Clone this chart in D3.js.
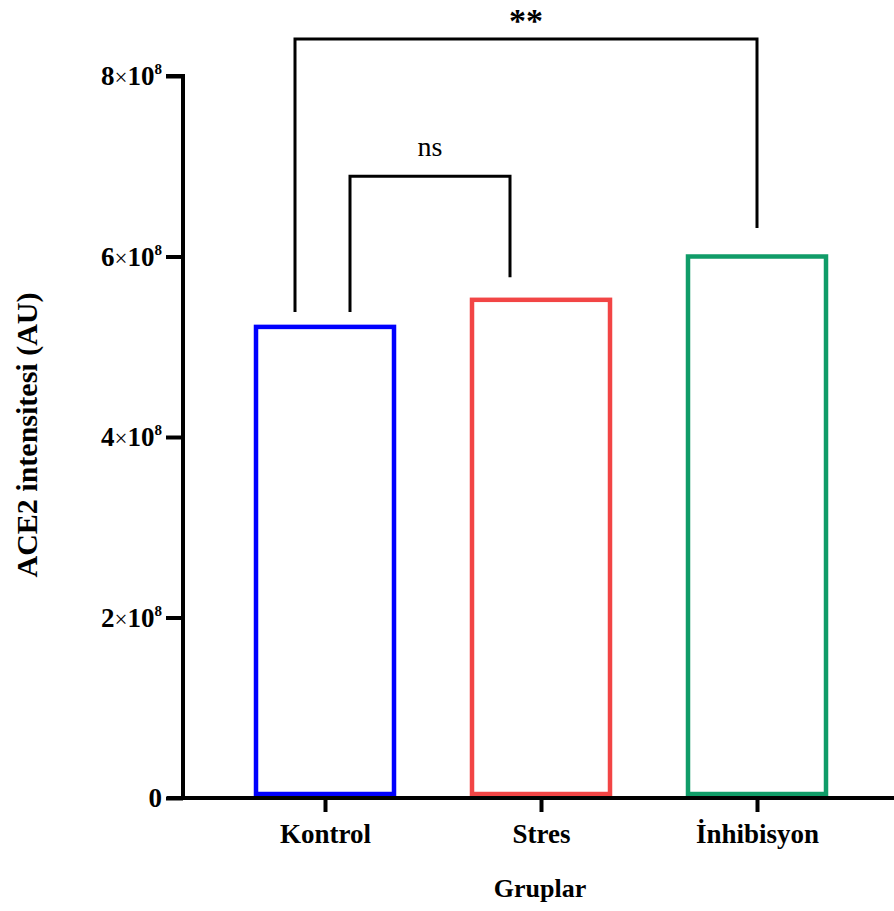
<!DOCTYPE html>
<html lang="tr">
  <head>
    <meta charset="utf-8" />
    <title>ACE2 intensitesi</title>
    <script src="https://cdn.jsdelivr.net/npm/d3@7"></script>
    <style>
      body { margin: 0; background: white; }
      text { font-family: "Liberation Serif", "DejaVu Serif", serif; font-weight: bold; }
    </style>
  </head>
  <body>
    <script>
      // data
      const groups = ["Kontrol", "Stres", "İnhibisyon"];
      const values = [5.22e8, 5.52e8, 6.0e8];
      const colors = ["#0000ff", "#f24545", "#109c68"];
      const yTicks = [0, 2e8, 4e8, 6e8, 8e8];

      // significance brackets: height and where each leg stops
      const brackets = [
        { from: 0, to: 1, top: 6.89e8, leftEnd: 5.385e8, rightEnd: 5.77e8, dxL: 25, dxR: -31, label: "ns" },
        { from: 0, to: 2, top: 8.41e8, leftEnd: 5.385e8, rightEnd: 6.315e8, dxL: -30, dxR: 0, label: "**" }
      ];

      const width = 894, height = 911;

      const svg = d3.select("body").append("svg")
        .attr("width", width)
        .attr("height", height);

      const x = d3.scalePoint().domain(groups).range([325, 757]);
      const y = d3.scaleLinear().domain([0, 8e8]).range([798, 76]);
      const barW = 138;

      // bars
      svg.selectAll("rect.bar")
        .data(groups)
        .enter()
        .append("rect")
        .attr("class", "bar")
        .attr("x", d => x(d) - barW / 2)
        .attr("y", (d, i) => y(values[i]))
        .attr("width", barW)
        .attr("height", (d, i) => y(0) - 4 - y(values[i]))
        .attr("fill", "none")
        .attr("stroke", (d, i) => colors[i])
        .attr("stroke-width", 4.5);

      // y axis
      const yAxis = svg.append("g")
        .attr("transform", "translate(183,0)")
        .call(d3.axisLeft(y).tickValues(yTicks).tickSize(17).tickFormat(""));
      yAxis.select(".domain").attr("d", `M-17,${y(8e8)}H0V${y(0)}`);
      yAxis.selectAll("path, line").attr("stroke", "black").attr("stroke-width", 4);

      const yLabels = svg.append("g").selectAll("text")
        .data(yTicks)
        .enter()
        .append("text")
        .attr("x", 162)
        .attr("y", d => y(d) + 9)
        .attr("text-anchor", "end")
        .attr("font-size", 27);
      yLabels.each(function (d) {
        const t = d3.select(this);
        if (d === 0) { t.text("0"); return; }
        t.append("tspan").text(d / 1e8);
        t.append("tspan").style("font-weight", "normal").attr("font-size", 23).text("×");
        t.append("tspan").text("10");
        t.append("tspan").attr("font-size", 15).attr("dy", -11).text("8");
      });

      // x axis
      const xAxis = svg.append("g")
        .attr("transform", `translate(0,${y(0)})`)
        .call(d3.axisBottom(x).tickSize(14));
      xAxis.select(".domain").attr("d", "M167,0H894");
      xAxis.selectAll("path, line").attr("stroke", "black").attr("stroke-width", 4);
      xAxis.selectAll("text")
        .attr("y", 45)
        .attr("dy", 0)
        .attr("font-size", 27)
        .attr("fill", "black")
        .attr("font-family", "Liberation Serif, serif")
        .attr("font-weight", "bold");

      // brackets
      const bg = svg.append("g");
      brackets.forEach(b => {
        const xl = x(groups[b.from]) + b.dxL;
        const xr = x(groups[b.to]) + b.dxR;
        bg.append("path")
          .attr("d", `M${xl},${y(b.leftEnd)}V${y(b.top)}H${xr}V${y(b.rightEnd)}`)
          .attr("fill", "none")
          .attr("stroke", "black")
          .attr("stroke-width", 3);
        const ns = b.label === "ns";
        bg.append("text")
          .attr("x", (xl + xr) / 2)
          .attr("y", y(b.top) - (ns ? 20 : 7))
          .attr("text-anchor", "middle")
          .attr("font-size", ns ? 28 : 34)
          .style("font-weight", ns ? "normal" : "bold")
          .text(b.label);
      });

      // axis titles
      svg.append("text")
        .attr("transform", "translate(37,435) rotate(-90)")
        .attr("text-anchor", "middle")
        .attr("font-size", 30)
        .text("ACE2 intensitesi (AU)");

      svg.append("text")
        .attr("x", 540)
        .attr("y", 897)
        .attr("text-anchor", "middle")
        .attr("font-size", 26)
        .text("Gruplar");
    </script>
  </body>
</html>
